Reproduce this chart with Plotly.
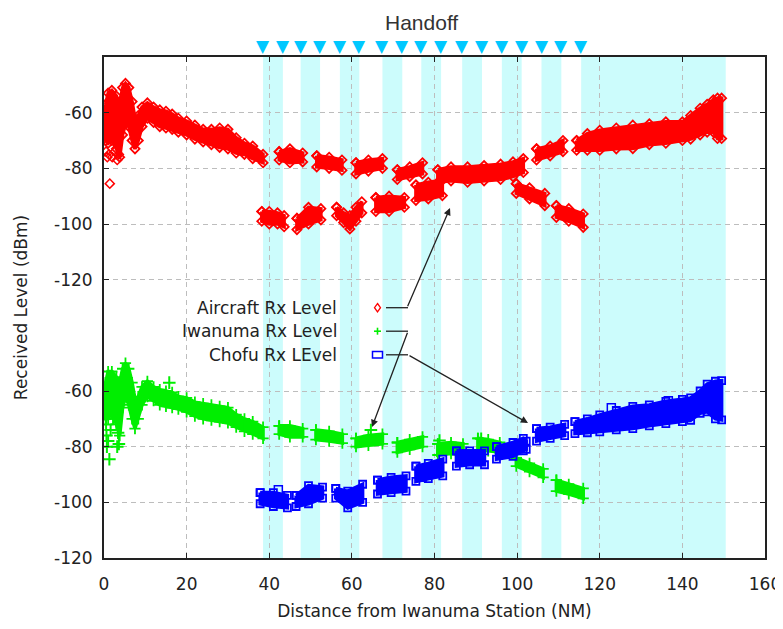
import plotly.graph_objects as go

# ---------------- data ----------------
# distance (NM) of each handoff; shaded bands run between successive pairs
handoff_nm = [38.5, 43.3, 47.6, 52.3, 57.1, 61.8, 67.4, 72.2, 76.8, 81.6,
              86.7, 91.5, 96.3, 101.1, 105.9, 110.7, 115.5]
flight_end_nm = 150.5

x_ticks = [0, 20, 40, 60, 80, 100, 120, 140, 160]
y_ticks = [-120, -100, -80, -60]

# Aircraft Rx level (dBm): envelope of the point cloud, segments split by None
aircraft_nm = [0.4, 1.0, 1.9, 3.0, 3.8, 4.5, 5.2, 6.0, 6.8, 7.5, 8.3, 9.2, 10.5, 12.0, 13.5, 15.0,
               16.5, 18.0, 20.0, 22.0, 24.0, 26.0, 28.0, 30.0, 32.0, 34.0, 36.0, 38.5, None,
               38.2, 40.0, 42.0, 43.6, None,
               42.4, 45.0, 48.1, None,
               46.7, 49.5, 52.5, None,
               51.5, 54.5, 57.6, None,
               56.3, 58.0, 59.5, 61.0, 62.4, None,
               61.0, 64.0, 67.4, None,
               65.8, 69.0, 72.7, None,
               71.0, 74.0, 77.1, None,
               75.5, 78.5, 81.9, None,
               80.8, 84.0, 88.0, 92.0, 96.0, 99.0, 101.5, None,
               99.8, 103.0, 106.7, None,
               104.7, 108.0, 111.1, None,
               109.5, 112.5, 116.0, None,
               114.4, 117.0, 120.0, 124.0, 128.0, 132.0, 136.0, 140.0, 142.0, 144.3, 146.0,
               147.5, 148.5, 149.5]
aircraft_hi = [-57, -53, -52, -54, -57, -51, -49.5, -51, -56, -62, -61, -58, -56.5, -58, -59, -59.5,
               -60.5, -62, -63, -64.5, -66, -66, -65.5, -66, -69, -71, -72, -75, None,
               -95.5, -95.5, -96, -97, None,
               -74, -73, -74.5, None,
               -98, -94, -94.5, None,
               -75.5, -76, -77, None,
               -94, -96, -97, -94, -92, None,
               -78, -77, -76.5, None,
               -90.5, -90, -90.5, None,
               -80.5, -79.5, -78, None,
               -86, -85, -84.3, None,
               -80.5, -79.5, -79.5, -79, -78.5, -77.7, -76.5, None,
               -85.5, -87, -89, None,
               -73, -72, -70, None,
               -93.4, -94.5, -96.4, None,
               -70, -67.5, -66.3, -65.5, -64.5, -64, -63.3, -63.3, -61, -58.4, -57,
               -55.4, -54.8, -54.8]
aircraft_lo = [-70, -71, -70, -73, -76, -68, -64, -65, -70, -73, -70, -65, -62, -63.5, -65, -65.5,
               -66, -67, -68, -69.5, -70.5, -71.5, -72.5, -73, -74.5, -75, -76.5, -78, None,
               -99, -100, -100, -101, None,
               -77, -78, -77.7, None,
               -102, -100, -98.5, None,
               -79.5, -80, -80.7, None,
               -97, -99.5, -101.8, -99, -96, None,
               -82, -81, -80, None,
               -95.5, -95.5, -94, None,
               -84, -83, -82, None,
               -91.5, -91, -89.8, None,
               -85, -84.5, -85, -84.5, -84, -83, -81.5, None,
               -89, -91, -93.4, None,
               -77, -75.5, -74, None,
               -97.6, -99, -101.2, None,
               -73.5, -73.5, -73.5, -73, -72.9, -71.5, -71, -70, -69.5, -68, -67,
               -67, -69.3, -69.3]
aircraft_sparse_nm = [0.5, 0.8, 1.2, 1.4, 2.0, 2.6, 3.2, 3.6]
aircraft_sparse_dbm = [-74, -76, -75, -85.5, -76, -74, -77, -75]

# Iwanuma Rx level (dBm)
iwanuma_nm = [0.4, 1.0, 1.9, 3.0, 3.8, 4.5, 5.2, 6.0, 6.8, 7.5, 8.3, 9.2, 10.5, 12.0, 13.5, 15.0,
              16.5, 18.0, 20.0, 22.0, 24.0, 26.0, 28.0, 30.0, 32.0, 34.0, 36.0, 38.5, None,
              42.4, 45.0, 48.1, None,
              51.3, 54.5, 57.7, None,
              61.0, 64.0, 67.4, None,
              71.0, 74.0, 77.1, None,
              80.8, 84.0, 86.9, None,
              90.5, 93.0, 95.8, None,
              99.8, 103.0, 106.3, None,
              109.5, 112.5, 116.0]
iwanuma_hi = [-57, -53, -53, -55, -57, -52, -50, -52, -57, -63, -62, -58.5, -56.5, -58.5, -59.5, -60,
              -60.5, -62, -62.5, -64, -64.5, -65, -65.5, -66, -68.5, -70, -71, -73, None,
              -72.5, -72.5, -73.5, None,
              -74, -74.5, -75.5, None,
              -77, -76, -75.5, None,
              -78.5, -77.5, -76.5, None,
              -79, -78.5, -79, None,
              -77, -77.5, -78.5, None,
              -84, -86, -88, None,
              -92, -93.5, -95]
iwanuma_lo = [-70, -70, -68, -72, -76, -66, -62, -65, -70, -73.5, -70, -65, -62, -63.5, -65, -65.5,
              -66, -66.5, -67.5, -69, -70, -70.5, -71, -71.5, -73, -74.5, -75.5, -77, None,
              -75.5, -76.5, -76.5, None,
              -77.5, -78, -78.7, None,
              -80, -79.5, -79, None,
              -82, -81, -80, None,
              -83, -82.5, -83, None,
              -81.5, -81.5, -82, None,
              -87, -89, -91, None,
              -96, -97, -98.6]
iwanuma_sparse_nm = [0.5, 0.6, 0.7, 1.0, 1.3, 1.6, 2.2, 3.2, 3.4, 3.6, 15.8, 64.6, 81.2, 91.3]
iwanuma_sparse_dbm = [-72, -76, -80, -78, -84.5, -74, -70, -80, -75, -79, -57, -74, -77.8, -77.2]

# Chofu Rx level (dBm)
chofu_nm = [37.8, 41.0, 44.4, None,
            46.5, 49.5, 52.9, None,
            56.1, 59.0, 62.6, None,
            66.2, 69.5, 73.1, None,
            75.5, 78.5, 82.0, None,
            85.3, 88.5, 92.1, None,
            95.0, 99.0, 101.5, 102.2, None,
            104.7, 108.0, 111.5, None,
            114.0, 117.0, 120.0, 124.0, 128.0, 132.0, 136.0, 140.0, 142.0, 144.3, 146.0,
            148.0, 149.5]
chofu_hi = [-96.5, -96.5, -97.5, None,
            -97.5, -94, -94.5, None,
            -95, -96, -93.5, None,
            -92, -91, -90.5, None,
            -87, -86, -84.5, None,
            -81.5, -81.5, -81.5, None,
            -80, -78.5, -77, -78, None,
            -73.5, -73, -72, None,
            -71, -70, -68.6, -67, -65.5, -65, -63.7, -63, -62.5, -60, -57.5,
            -56.5, -56.3]
chofu_lo = [-100.5, -101.5, -102, None,
            -101.5, -100.5, -98.5, None,
            -98.5, -102, -100, None,
            -97, -96.5, -96, None,
            -92.5, -91.5, -90.5, None,
            -87, -86.5, -86.5, None,
            -84.5, -83.5, -81.5, -81, None,
            -78, -77, -76, None,
            -75.3, -75, -74.7, -74, -73.5, -72.5, -71.7, -71, -70.5, -68, -67.5,
            -70, -70.4]
chofu_sparse_nm = [42.2, 77.0, 122.8, 136.6]
chofu_sparse_dbm = [-95.5, -91, -66, -63.5]

# ---------------- layout helpers ----------------
# The page body has an 8 px default margin, so the figure is drawn 8 px in
# from the window's top-left corner; the figure size compensates for it.
BODY = 8
WIN_W, WIN_H = 783, 629
FIG_W, FIG_H = WIN_W - BODY, WIN_H - BODY
# plot-area edges in window pixels
PLOT_L, PLOT_R, PLOT_T, PLOT_B = 104, 765, 57, 558


def px_x(p):
    return (p - PLOT_L) / (PLOT_R - PLOT_L)


def px_y(p):
    return (PLOT_B - p) / (PLOT_B - PLOT_T)


def envelope_polygons(xs, his, los):
    """Closed polygon per segment (segments separated by None)."""
    out_x, out_y = [], []
    seg = []
    for x, h, l in list(zip(xs, his, los)) + [(None, None, None)]:
        if x is None:
            if seg:
                sx = [s[0] for s in seg]
                sh = [s[1] for s in seg]
                sl = [s[2] for s in seg]
                out_x += sx + sx[::-1] + [sx[0], None]
                out_y += sh + sl[::-1] + [sh[0], None]
            seg = []
        else:
            seg.append((x, h, l))
    return out_x, out_y


RED, GREEN, BLUE = "#ff0000", "#00ee00", "#0000ff"
CYAN_BAND, CYAN_TRI = "#ccfcfc", "#00c8ff"
INK = "#222222"
FONT = "DejaVu Sans"

fig = go.Figure()

series = [
    (iwanuma_nm, iwanuma_hi, iwanuma_lo, GREEN, "y", "cross-thin-open", 8),
    (chofu_nm, chofu_hi, chofu_lo, BLUE, "y", "square-open", 7),
    (aircraft_nm, aircraft_hi, aircraft_lo, RED, "y2", "diamond-open", 7),
]
for xs, hi, lo, col, yax, sym, sz in series:
    px_, py_ = envelope_polygons(xs, hi, lo)
    fig.add_trace(go.Scatter(x=px_, y=py_, mode="lines+markers", fill="toself", fillcolor=col,
                             line=dict(color=col, width=3.5),
                             marker=dict(symbol=sym, size=sz, color=col,
                                         line=dict(width=1.8, color=col)),
                             yaxis=yax, hoverinfo="skip"))

# isolated samples
fig.add_trace(go.Scatter(x=aircraft_sparse_nm, y=aircraft_sparse_dbm, mode="markers", yaxis="y2",
                         marker=dict(symbol="diamond-open", size=7, color=RED, line=dict(width=1.5))))
fig.add_trace(go.Scatter(x=iwanuma_sparse_nm, y=iwanuma_sparse_dbm, mode="markers", yaxis="y",
                         marker=dict(symbol="cross-thin-open", size=9, color=GREEN,
                                     line=dict(width=2, color=GREEN))))
fig.add_trace(go.Scatter(x=chofu_sparse_nm, y=chofu_sparse_dbm, mode="markers", yaxis="y",
                         marker=dict(symbol="square-open", size=8, color=BLUE, line=dict(width=1.5))))

shapes = []
annotations = []

# handoff markers above the plot
for h in handoff_nm:
    annotations.append(dict(text="▼", xref="x", yref="paper", x=h, y=px_y(46),
                            xanchor="center", yanchor="middle", showarrow=False,
                            font=dict(family=FONT, size=17, color=CYAN_TRI)))

band_starts = handoff_nm[0::2]
band_ends = handoff_nm[1::2] + [flight_end_nm]
for s, e in zip(band_starts, band_ends):
    shapes.append(dict(type="rect", xref="x", yref="paper", x0=s, x1=e, y0=0, y1=1,
                       fillcolor=CYAN_BAND, line=dict(width=0), layer="below"))

# legend (manual, as in the original)
legend_rows = [("Aircraft Rx Level", 307.7), ("Iwanuma Rx Level", 331.2), ("Chofu Rx LEvel", 354.8)]
for txt, yy in legend_rows:
    annotations.append(dict(text=txt, xref="paper", yref="paper", x=px_x(339), y=px_y(yy),
                            xanchor="right", yanchor="middle", showarrow=False,
                            font=dict(family=FONT, size=17, color=INK)))
    shapes.append(dict(type="line", xref="paper", yref="paper", x0=px_x(386), x1=px_x(408),
                       y0=px_y(yy), y1=px_y(yy), line=dict(color=INK, width=1.3)))

# legend glyphs
cx = 377.5
dy = 307.7
shapes.append(dict(type="path", xref="paper", yref="paper",
                   path=f"M {px_x(cx)},{px_y(dy-4.2)} L {px_x(cx+3)},{px_y(dy)} "
                        f"L {px_x(cx)},{px_y(dy+4.2)} L {px_x(cx-3)},{px_y(dy)} Z",
                   line=dict(color=RED, width=1.3)))
gy = 331.2
shapes.append(dict(type="line", xref="paper", yref="paper", x0=px_x(cx-3.5), x1=px_x(cx+3.5),
                   y0=px_y(gy), y1=px_y(gy), line=dict(color=GREEN, width=1.6)))
shapes.append(dict(type="line", xref="paper", yref="paper", x0=px_x(cx), x1=px_x(cx),
                   y0=px_y(gy-3.5), y1=px_y(gy+3.5), line=dict(color=GREEN, width=1.6)))
by = 354.8
shapes.append(dict(type="rect", xref="paper", yref="paper", x0=px_x(cx-5), x1=px_x(cx+5),
                   y0=px_y(by+3.2), y1=px_y(by-3.2), line=dict(color=BLUE, width=1.5)))

# arrows from the legend to the curves (head px, tail px)
arrows = [((450, 208), (407, 307.7)),
          ((372, 427), (408, 331.2)),
          ((528, 423), (408, 354.8))]
for (hx, hy), (tx, ty) in arrows:
    annotations.append(dict(text="", xref="paper", yref="paper", x=px_x(hx), y=px_y(hy),
                            ax=tx - hx, ay=ty - hy, showarrow=True, arrowhead=2,
                            arrowsize=1.1, arrowwidth=1.3, arrowcolor=INK, standoff=0))

annotations.append(dict(text="Handoff", xref="paper", yref="paper", x=px_x(421), y=px_y(22.5),
                        xanchor="center", yanchor="middle", showarrow=False, borderpad=0,
                        font=dict(family="Liberation Sans, Arial", size=21, color="#333333")))

axis_style = dict(showline=True, linecolor=INK, linewidth=2, mirror="ticks",
                  ticks="inside", ticklen=5, tickwidth=1, tickcolor=INK,
                  showgrid=True, gridcolor="#bdbdbd", gridwidth=1, griddash="5px,4px",
                  zeroline=False, automargin=False,
                  tickfont=dict(family=FONT, size=17, color=INK))

fig.update_layout(
    template="none",
    width=FIG_W, height=FIG_H,
    margin=dict(l=PLOT_L - BODY, r=WIN_W - PLOT_R, t=PLOT_T - BODY, b=WIN_H - PLOT_B,
                autoexpand=False),
    plot_bgcolor="white", paper_bgcolor="white",
    showlegend=False,
    xaxis=dict(range=[0, 160], tickvals=x_ticks, ticktext=[str(v) for v in x_ticks],
               ticklabelstandoff=10,
               title=dict(text="Distance from Iwanuma Station (NM)",
                          font=dict(family=FONT, size=17, color=INK), standoff=12),
               **axis_style),
    yaxis=dict(range=[-120, 60], tickvals=y_ticks, ticktext=[str(v) for v in y_ticks],
               ticklabelstandoff=6,
               title=dict(text="Received Level (dBm)",
                          font=dict(family=FONT, size=17, color=INK), standoff=22),
               **axis_style),
    yaxis2=dict(range=[-220, -40], overlaying="y", side="left", anchor="x",
                tickvals=y_ticks, ticktext=[str(v) for v in y_ticks],
                ticklabelstandoff=6, **axis_style),
    shapes=shapes,
    annotations=annotations,
)

fig.write_html("out.html")
